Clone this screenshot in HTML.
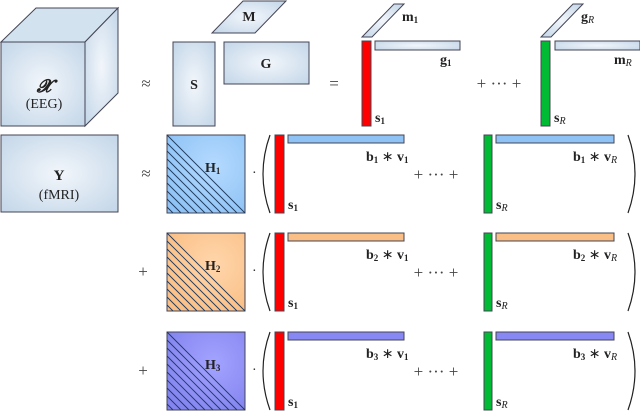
<!DOCTYPE html>
<html><head><meta charset="utf-8"><style>
html,body{margin:0;padding:0;background:#fff}
svg{display:block}
text{font-family:"Liberation Serif",serif;fill:#222}
.b{font-weight:bold}
.op{font-size:17px;fill:#444}
</style></head><body>
<svg width="640" height="414" viewBox="0 0 640 414" xmlns="http://www.w3.org/2000/svg">
<defs>
<radialGradient id="gb" cx="50%" cy="50%" r="70%"><stop offset="0" stop-color="#f2f6fb"/><stop offset="1" stop-color="#c3d6e8"/></radialGradient>
<radialGradient id="g1" cx="60%" cy="40%" r="70%"><stop offset="0" stop-color="#b5daff"/><stop offset="1" stop-color="#8fc3f5"/></radialGradient>
<radialGradient id="g2" cx="60%" cy="40%" r="70%"><stop offset="0" stop-color="#ffd6ab"/><stop offset="1" stop-color="#fabf86"/></radialGradient>
<radialGradient id="g3" cx="60%" cy="40%" r="70%"><stop offset="0" stop-color="#a3a3ff"/><stop offset="1" stop-color="#8484f0"/></radialGradient>
<g id="hatch" stroke="#1f3a5c" stroke-width="0.9">
<line x1="0" y1="0" x2="78" y2="78"/><line x1="0" y1="8" x2="70" y2="78"/><line x1="0" y1="16" x2="62" y2="78"/><line x1="0" y1="24" x2="54" y2="78"/><line x1="0" y1="32" x2="46" y2="78"/><line x1="0" y1="40" x2="38" y2="78"/><line x1="0" y1="48" x2="30" y2="78"/><line x1="0" y1="56" x2="22" y2="78"/><line x1="0" y1="64" x2="14" y2="78"/><line x1="0" y1="72" x2="6" y2="78"/>
</g>
</defs>
<g stroke="#445" stroke-width="1">
<polygon points="1,42 36,8 118,8 85,42" fill="#d3e2ef"/>
<polygon points="85,42 118,8 118,93 85,126" fill="url(#gb)"/>
<rect x="1" y="42" width="84" height="84" fill="url(#gb)"/>
<rect x="173" y="42" width="42" height="84" fill="url(#gb)"/>
<rect x="224" y="42" width="85" height="42" fill="url(#gb)"/>
<polygon points="212,33 255,33 286,1 243,1" fill="url(#gb)"/>
<rect x="362" y="41" width="9" height="85" fill="#f00"/>
<rect x="375" y="41" width="85" height="9" fill="url(#gb)"/>
<polygon points="362,37 372,37 404,4 394,4" fill="url(#gb)"/>
<rect x="541" y="41" width="9" height="85" fill="#0b3"/>
<rect x="555" y="41" width="85" height="9" fill="url(#gb)"/>
<polygon points="541,37 551,37 583,4 573,4" fill="url(#gb)"/>
<rect x="1" y="135" width="117" height="77" fill="url(#gb)"/>
</g>
<text x="44" y="92" font-size="18" text-anchor="middle" font-style="italic" class="b">𝓧</text>
<text x="44" y="108" font-size="14" text-anchor="middle">(EEG)</text>
<text x="146" y="89" class="op" text-anchor="middle">≈</text>
<text x="194" y="89" font-size="14" text-anchor="middle" class="b">S</text>
<text x="266" y="68" font-size="14" text-anchor="middle" class="b">G</text>
<text x="249" y="21" font-size="14" text-anchor="middle" class="b">M</text>
<text x="334" y="89" class="op" text-anchor="middle">=</text>
<text x="402" y="21" font-size="14" class="b">m<tspan font-size="9" dy="2">1</tspan></text>
<text x="440" y="64" font-size="14" class="b">g<tspan font-size="9" dy="2">1</tspan></text>
<text x="375" y="122" font-size="14" class="b">s<tspan font-size="9" dy="2">1</tspan></text>
<text x="499" y="89" class="op" text-anchor="middle">+ ··· +</text>
<text x="581" y="21" font-size="14" class="b">g<tspan font-size="10" dy="2" font-style="italic" font-weight="normal">R</tspan></text>
<text x="614" y="64" font-size="14" class="b">m<tspan font-size="10" dy="2" font-style="italic" font-weight="normal">R</tspan></text>
<text x="554" y="122" font-size="14" class="b">s<tspan font-size="10" dy="2" font-style="italic" font-weight="normal">R</tspan></text>
<text x="59" y="180" font-size="15" text-anchor="middle" class="b">Y</text>
<text x="59" y="199" font-size="14" text-anchor="middle">(fMRI)</text>
<text x="146" y="179" class="op" text-anchor="middle">≈</text>
<text x="143" y="277" class="op" text-anchor="middle">+</text>
<text x="143" y="376" class="op" text-anchor="middle">+</text>

<g transform="translate(0,135)">
<rect x="167" y="0" width="78" height="78" fill="url(#g1)" stroke="#445"/>
<use href="#hatch" x="167" y="0"/>
<text x="205" y="37" font-size="14" class="b">H<tspan font-size="9" dy="2">1</tspan></text>
<text x="252" y="42" font-size="14">·</text>
<path d="M270,0 Q256,39 270,78" fill="none" stroke="#222" stroke-width="1.2"/>
<rect x="275" y="0" width="9" height="78" fill="#f00" stroke="#445"/>
<rect x="288" y="0" width="116" height="8" fill="#8fc3f5" stroke="#445"/>
<text x="366" y="26" font-size="14" class="b">b<tspan font-size="9" dy="2">1</tspan><tspan dy="-2" font-weight="normal"> ∗ </tspan>v<tspan font-size="9" dy="2">1</tspan></text>
<text x="288" y="74" font-size="14" class="b">s<tspan font-size="9" dy="2">1</tspan></text>
<text x="436" y="45" class="op" text-anchor="middle">+ ··· +</text>
<rect x="484" y="0" width="8" height="78" fill="#0b3" stroke="#445"/>
<rect x="496" y="0" width="118" height="8" fill="#8fc3f5" stroke="#445"/>
<text x="573" y="26" font-size="14" class="b">b<tspan font-size="9" dy="2">1</tspan><tspan dy="-2" font-weight="normal"> ∗ </tspan>v<tspan font-size="10" dy="2" font-style="italic" font-weight="normal">R</tspan></text>
<text x="496" y="74" font-size="14" class="b">s<tspan font-size="10" dy="2" font-style="italic" font-weight="normal">R</tspan></text>
<path d="M628,0 Q642,39 628,78" fill="none" stroke="#222" stroke-width="1.2"/>
</g>
<g transform="translate(0,233)">
<rect x="167" y="0" width="78" height="78" fill="url(#g2)" stroke="#445"/>
<use href="#hatch" x="167" y="0"/>
<text x="205" y="37" font-size="14" class="b">H<tspan font-size="9" dy="2">2</tspan></text>
<text x="252" y="42" font-size="14">·</text>
<path d="M270,0 Q256,39 270,78" fill="none" stroke="#222" stroke-width="1.2"/>
<rect x="275" y="0" width="9" height="78" fill="#f00" stroke="#445"/>
<rect x="288" y="0" width="116" height="8" fill="#fabf86" stroke="#445"/>
<text x="366" y="26" font-size="14" class="b">b<tspan font-size="9" dy="2">2</tspan><tspan dy="-2" font-weight="normal"> ∗ </tspan>v<tspan font-size="9" dy="2">1</tspan></text>
<text x="288" y="74" font-size="14" class="b">s<tspan font-size="9" dy="2">1</tspan></text>
<text x="436" y="45" class="op" text-anchor="middle">+ ··· +</text>
<rect x="484" y="0" width="8" height="78" fill="#0b3" stroke="#445"/>
<rect x="496" y="0" width="118" height="8" fill="#fabf86" stroke="#445"/>
<text x="573" y="26" font-size="14" class="b">b<tspan font-size="9" dy="2">2</tspan><tspan dy="-2" font-weight="normal"> ∗ </tspan>v<tspan font-size="10" dy="2" font-style="italic" font-weight="normal">R</tspan></text>
<text x="496" y="74" font-size="14" class="b">s<tspan font-size="10" dy="2" font-style="italic" font-weight="normal">R</tspan></text>
<path d="M628,0 Q642,39 628,78" fill="none" stroke="#222" stroke-width="1.2"/>
</g>
<g transform="translate(0,332)">
<rect x="167" y="0" width="78" height="78" fill="url(#g3)" stroke="#445"/>
<use href="#hatch" x="167" y="0"/>
<text x="205" y="37" font-size="14" class="b">H<tspan font-size="9" dy="2">3</tspan></text>
<text x="252" y="42" font-size="14">·</text>
<path d="M270,0 Q256,39 270,78" fill="none" stroke="#222" stroke-width="1.2"/>
<rect x="275" y="0" width="9" height="78" fill="#f00" stroke="#445"/>
<rect x="288" y="0" width="116" height="8" fill="#8888f5" stroke="#445"/>
<text x="366" y="26" font-size="14" class="b">b<tspan font-size="9" dy="2">3</tspan><tspan dy="-2" font-weight="normal"> ∗ </tspan>v<tspan font-size="9" dy="2">1</tspan></text>
<text x="288" y="74" font-size="14" class="b">s<tspan font-size="9" dy="2">1</tspan></text>
<text x="436" y="45" class="op" text-anchor="middle">+ ··· +</text>
<rect x="484" y="0" width="8" height="78" fill="#0b3" stroke="#445"/>
<rect x="496" y="0" width="118" height="8" fill="#8888f5" stroke="#445"/>
<text x="573" y="26" font-size="14" class="b">b<tspan font-size="9" dy="2">3</tspan><tspan dy="-2" font-weight="normal"> ∗ </tspan>v<tspan font-size="10" dy="2" font-style="italic" font-weight="normal">R</tspan></text>
<text x="496" y="74" font-size="14" class="b">s<tspan font-size="10" dy="2" font-style="italic" font-weight="normal">R</tspan></text>
<path d="M628,0 Q642,39 628,78" fill="none" stroke="#222" stroke-width="1.2"/>
</g>
</svg>
</body></html>
